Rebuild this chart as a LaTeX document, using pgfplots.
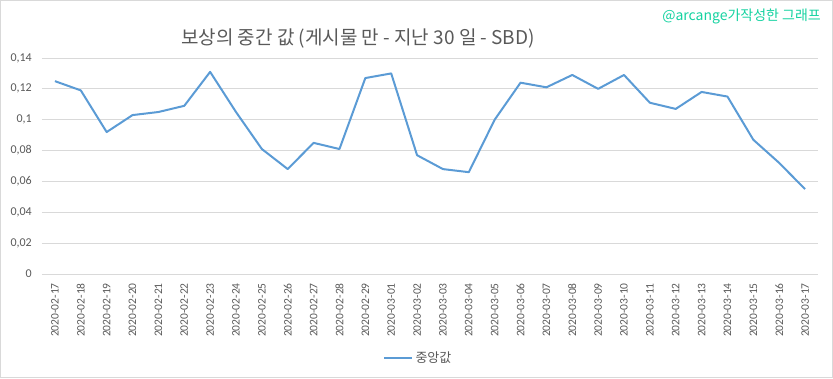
\documentclass[border=0pt]{standalone}
\usepackage{fontspec}
\setmainfont{Carlito}
\newfontfamily\kr{Noto Sans CJK KR}
\usepackage{pgfplots}
\pgfplotsset{compat=1.18}
\definecolor{linec}{HTML}{5B9BD5}
\definecolor{gridc}{HTML}{D9D9D9}
\definecolor{txt}{HTML}{595959}
\definecolor{wm}{HTML}{14D2A0}
\begin{document}
\begin{tikzpicture}
\path[use as bounding box] (0pt,0pt) rectangle (833pt,378pt);
\draw[gridc, line width=1pt] (0.5pt,0.5pt) rectangle (832.5pt,377.5pt);
\begin{axis}[at={(42pt,104pt)}, anchor=south west, scale only axis,
  width=776pt, height=216pt,
  xmin=-0.5, xmax=29.5, ymin=0, ymax=0.14,
  ytick={0,0.02,0.04,0.06,0.08,0.1,0.12,0.14},
  y tick label style={/pgf/number format/use comma, /pgf/number format/fixed,
    /pgf/number format/precision=2, /pgf/number format/assume math mode=true,
    font=\fontsize{12}{14}\selectfont, text=txt, inner sep=0pt},
  yticklabel shift=10pt,
  xtick={0,...,29},
  xticklabels={2020-02-17,2020-02-18,2020-02-19,2020-02-20,2020-02-21,2020-02-22,2020-02-23,2020-02-24,2020-02-25,2020-02-26,2020-02-27,2020-02-28,2020-02-29,2020-03-01,2020-03-02,2020-03-03,2020-03-04,2020-03-05,2020-03-06,2020-03-07,2020-03-08,2020-03-09,2020-03-10,2020-03-11,2020-03-12,2020-03-13,2020-03-14,2020-03-15,2020-03-16,2020-03-17},
  x tick label style={rotate=90, anchor=east, font=\fontsize{11.5}{13}\selectfont, text=txt, inner sep=0pt},
  xticklabel shift=9pt,
  major tick length=0pt,
  axis line style={draw=none},
  ymajorgrids, grid style={gridc, line width=1pt},
  legend style={at={(0.485,-0.389)}, anchor=center, draw=none, fill=none,
    font=\kr\fontsize{13}{15}\selectfont, text=txt, inner sep=0pt},
  legend image code/.code={\draw[linec, line width=2.2pt] (0pt,0pt) -- (28pt,0pt);},
  clip=false,
]
\addplot[linec, line width=2pt, line join=round] coordinates {
(0,0.125) (1,0.119) (2,0.092) (3,0.103) (4,0.105) (5,0.109) (6,0.131) (7,0.105)
(8,0.081) (9,0.068) (10,0.085) (11,0.081) (12,0.127) (13,0.130) (14,0.077)
(15,0.068) (16,0.066) (17,0.100) (18,0.124) (19,0.121) (20,0.129) (21,0.120)
(22,0.129) (23,0.111) (24,0.107) (25,0.118) (26,0.115) (27,0.087) (28,0.072) (29,0.055)};
\addlegendentry{중앙값}
\end{axis}
\node[txt, font=\kr\fontsize{19}{22}\selectfont] at (358pt,339pt) {보상의 중간 값 (게시물 만 - 지난 30 일 - SBD)};
\node[wm, anchor=east, inner sep=0pt, font=\kr\fontsize{14}{16}\selectfont] at (821pt,361.5pt) {@arcange가작성한 그래프};
\end{tikzpicture}
\end{document}
